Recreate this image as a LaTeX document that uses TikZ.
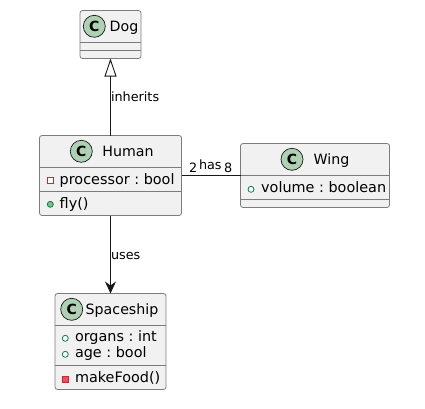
\documentclass[tikz,border=0pt]{standalone}
\usepackage{fontspec}
\setmainfont{DejaVu Sans}
\usetikzlibrary{arrows.meta}
\definecolor{boxfill}{HTML}{F1F1F1}
\definecolor{boxline}{HTML}{7C7C7C}
\definecolor{linkline}{HTML}{181818}
\definecolor{spotfill}{HTML}{ADD1B2}
\definecolor{publine}{HTML}{038048}
\definecolor{pubfill}{HTML}{84BE84}
\definecolor{privline}{HTML}{C82930}
\definecolor{privfill}{HTML}{F24D5C}
\frenchspacing

\begin{document}
\begin{tikzpicture}[x=1pt,y=-1pt,
    classbox/.style={shape=rectangle,draw=boxline,fill=boxfill,line width=.8pt,rounded corners=2.5pt,inner sep=0pt,outer sep=0pt,anchor=north west},
    divider/.style={draw=boxline,line width=.8pt},
    spot/.style={shape=circle,draw=linkline,fill=spotfill,line width=.7pt,minimum size=22pt,inner sep=0pt,font=\fontsize{14}{16}\selectfont\bfseries},
    title/.style={anchor=base west,inner sep=0pt,font=\fontsize{14.2}{16}\selectfont},
    member/.style={anchor=base west,inner sep=0pt,font=\fontsize{14.4}{16}\selectfont},
    lab/.style={anchor=base west,inner sep=0pt,font=\fontsize{12.8}{15}\selectfont},
    pubopen/.style={shape=circle,draw=publine,fill=white,line width=.8pt,minimum size=6pt,inner sep=0pt},
    pubdot/.style={shape=circle,draw=publine,fill=pubfill,line width=.8pt,minimum size=6pt,inner sep=0pt},
    privopen/.style={shape=rectangle,draw=privline,fill=white,line width=.8pt,minimum size=6pt,inner sep=0pt},
    privdot/.style={shape=rectangle,draw=privline,fill=privfill,line width=.8pt,minimum size=6pt,inner sep=0pt},
    link/.style={draw=linkline,line width=.9pt}]
    \useasboundingbox (0,0) rectangle (425,408);
    % classes
    \node[classbox,minimum width=61pt,minimum height=48pt] (dog) at (80,10.5) {};
    \node[classbox,minimum width=142pt,minimum height=80pt] (human) at (39.5,135.5) {};
    \node[classbox,minimum width=149pt,minimum height=64pt] (wing) at (240.5,143.5) {};
    \node[classbox,minimum width=111pt,minimum height=96pt] (spaceship) at (55,293.5) {};
    % compartments
    \draw[divider] (dog.west |- 0,42.5) -- (dog.east |- 0,42.5);
    \draw[divider] (dog.west |- 0,50.5) -- (dog.east |- 0,50.5);
    \draw[divider] (human.west |- 0,167.5) -- (human.east |- 0,167.5);
    \draw[divider] (human.west |- 0,191.5) -- (human.east |- 0,191.5);
    \draw[divider] (wing.west |- 0,175.5) -- (wing.east |- 0,175.5);
    \draw[divider] (wing.west |- 0,199.5) -- (wing.east |- 0,199.5);
    \draw[divider] (spaceship.west |- 0,325.5) -- (spaceship.east |- 0,325.5);
    \draw[divider] (spaceship.west |- 0,365.5) -- (spaceship.east |- 0,365.5);
    % spots and names
    \node[spot] (dogspot) at (94.3,26.3) {C};
    \node[title] (dogname) at (109.5,31.7) {Dog};
    \node[spot] (humanspot) at (81.3,151.3) {C};
    \node[title] (humanname) at (102.2,156) {Human};
    \node[spot] (wingspot) at (292,159.3) {C};
    \node[title] (wingname) at (313.5,164.3) {Wing};
    \node[spot] (shipspot) at (71.7,309.3) {C};
    \node[title] (shipname) at (85.5,314) {Spaceship};
    % members
    \node[privopen] (procmark) at (50.3,180.3) {};
    \node[member] (proc) at (59.5,184) {processor : bool};
    \node[pubdot] (flymark) at (50.3,204.3) {};
    \node[member] (fly) at (59.5,208) {fly()};
    \node[pubopen] (volmark) at (251,189.3) {};
    \node[member] (vol) at (261,192.3) {volume : boolean};
    \node[pubopen] (orgmark) at (65.3,338.3) {};
    \node[member] (org) at (74.8,341.7) {organs : int};
    \node[pubopen] (agemark) at (65.3,354.3) {};
    \node[member] (age) at (74.8,357.7) {age : bool};
    \node[privdot] (foodmark) at (65.3,379.3) {};
    \node[member] (food) at (74.8,382.7) {makeFood()};
    % relations
    \draw[link,-{Triangle[open,length=18pt,width=12pt]}] (human.north) -- (dog.south);
    \draw[link,-{Stealth[inset=4pt,length=12pt,width=11pt]}] (human.south) -- (spaceship.north);
    \draw[link] (human.east) -- (wing.west);
    \node[lab] (inherits) at (110.8,101.5) {inherits};
    \node[lab] (uses) at (110.8,259.5) {uses};
    \node[lab] (has) at (198.8,169) {has};
    \node[lab] (humanend) at (189,172.5) {2};
    \node[lab] (wingend) at (224,172.5) {8};
\end{tikzpicture}
\end{document}
